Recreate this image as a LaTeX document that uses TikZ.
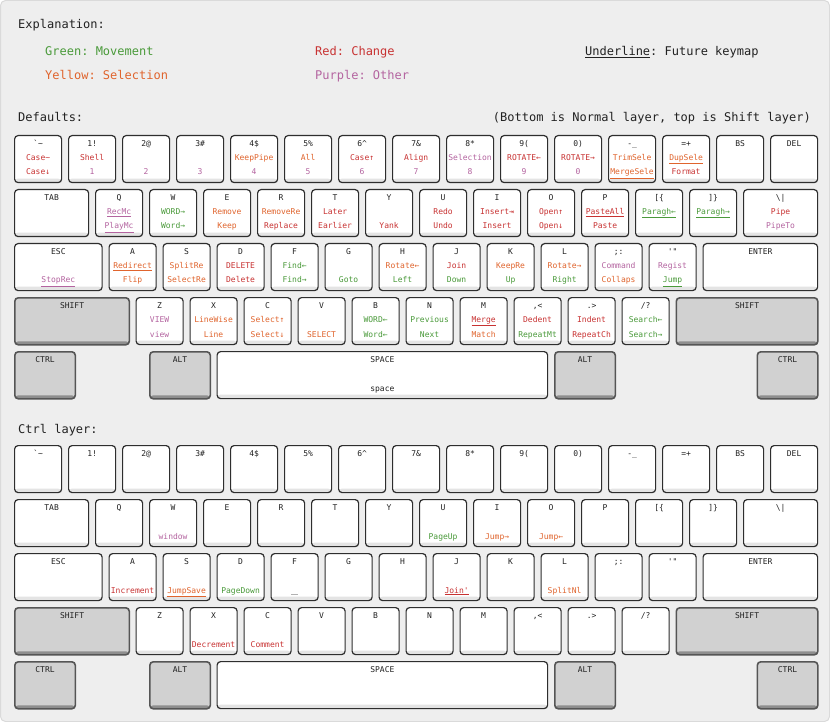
\documentclass[tikz,border=0pt]{standalone}
\usepackage{fontspec}
\setmonofont{DejaVu Sans Mono}
\usepackage{tikz}
\usepackage{xcolor}
\definecolor{KbBack}{HTML}{EEEEEE}
\definecolor{KbFrame}{HTML}{DADADA}
\definecolor{KbBorder}{HTML}{2E2E2E}
\definecolor{KbShade}{HTML}{E4E4E4}
\definecolor{KbMod}{HTML}{D1D1D1}
\definecolor{KbModBorder}{HTML}{555555}
\definecolor{KbModShade}{HTML}{8E8E8E}
\definecolor{KbText}{HTML}{222222}
\definecolor{KbGreen}{HTML}{4A9A3A}
\definecolor{KbRed}{HTML}{C83232}
\definecolor{KbYellow}{HTML}{E0642D}
\definecolor{KbPurple}{HTML}{B464A0}
\tikzset{
    % White keycaps
    keycap/.style={
        rectangle,
        rounded corners=3.5pt,
        draw=KbBorder,
        line width=1.2pt,
        fill=white,
        minimum height=47pt,
        inner sep=0pt,
        anchor=north west,
        path picture={\fill[KbShade]
            ([yshift=-1pt]path picture bounding box.south west) rectangle
            ([yshift=4pt]path picture bounding box.south east);}
    },
    % Grey modifier keycaps
    modcap/.style={
        keycap,
        draw=KbModBorder,
        line width=1.6pt,
        fill=KbMod,
        path picture={\fill[KbModShade]
            ([yshift=-1pt]path picture bounding box.south west) rectangle
            ([yshift=3.5pt]path picture bounding box.south east);}
    },
    keylabel/.style={
        font=\ttfamily\fontsize{8}{9}\selectfont,
        text=KbText,
        inner sep=0pt,
        anchor=base
    },
    headtext/.style={
        font=\ttfamily\fontsize{12}{14}\selectfont,
        text=KbText,
        inner sep=0pt,
        anchor=base west
    }
}
\newcommand{\kmove}[1]{\textcolor{KbGreen}{#1}}
\newcommand{\kedit}[1]{\textcolor{KbRed}{#1}}
\newcommand{\kpick}[1]{\textcolor{KbYellow}{#1}}
\newcommand{\kmisc}[1]{\textcolor{KbPurple}{#1}}
% [style]{name}{x}{y}{width}{key}{upper}{lower}
\newcommand{\kbkey}[8][keycap]{%
    \node[#1, minimum width=#5pt] (#2) at (#3,#4) {};
    \node[keylabel] (#2-t) at ([yshift=-11.5pt]#2.north) {#6};
    \node[keylabel] (#2-m) at ([yshift=-25.5pt]#2.north) {#7};
    \node[keylabel] (#2-b) at ([yshift=-40pt]#2.north) {#8};
}
\begin{document}
\begin{tikzpicture}[x=1pt, y=-1pt]
        \useasboundingbox (0,0) rectangle (830,722);
        \draw[KbFrame, fill=KbBack, rounded corners=5pt, line width=1pt]
              (0.5,0.5) rectangle (829.5,721.5);

        % Legend
        \node[headtext] (explain) at (18,29) {Explanation:};
        \node[headtext, text=KbGreen] (leg-move) at (45,56) {Green: Movement};
        \node[headtext, text=KbYellow] (leg-sel) at (45,80) {Yellow: Selection};
        \node[headtext, text=KbRed] (leg-change) at (315,56) {Red: Change};
        \node[headtext, text=KbPurple] (leg-other) at (315,80) {Purple: Other};
        \node[headtext] (leg-future) at (585,56) {\underline{Underline}: Future keymap};
        \node[headtext] (defaults) at (18,122) {Defaults:};
        \node[headtext, anchor=base east] (layers) at (811,122)
              {(Bottom is Normal layer, top is Shift layer)};

        % Defaults: number row
        \kbkey{d-grave}{14}{135}{47}{`\textasciitilde}{\kedit{Case\textasciitilde}}{\kedit{Case↓}}
        \kbkey{d-n1}{68}{135}{47}{1!}{\kedit{Shell}}{\kmisc{1}}
        \kbkey{d-n2}{122}{135}{47}{2@}{}{\kmisc{2}}
        \kbkey{d-n3}{176}{135}{47}{3\#}{}{\kmisc{3}}
        \kbkey{d-n4}{230}{135}{47}{4\$}{\kpick{KeepPipe}}{\kmisc{4}}
        \kbkey{d-n5}{284}{135}{47}{5\%}{\kpick{All}}{\kmisc{5}}
        \kbkey{d-n6}{338}{135}{47}{6\textasciicircum}{\kedit{Case↑}}{\kmisc{6}}
        \kbkey{d-n7}{392}{135}{47}{7\&}{\kedit{Align}}{\kmisc{7}}
        \kbkey{d-n8}{446}{135}{47}{8*}{\kmisc{Selection}}{\kmisc{8}}
        \kbkey{d-n9}{500}{135}{47}{9(}{\kedit{ROTATE←}}{\kmisc{9}}
        \kbkey{d-n0}{554}{135}{47}{0)}{\kedit{ROTATE→}}{\kmisc{0}}
        \kbkey{d-minus}{608}{135}{47}{-\_}{\kpick{TrimSele}}{\kpick{\underline{MergeSele}}}
        \kbkey{d-equal}{662}{135}{47}{=+}{\kpick{\underline{DupSele}}}{\kedit{Format}}
        \kbkey{d-bs}{716}{135}{47}{BS}{}{}
        \kbkey{d-del}{770}{135}{47}{DEL}{}{}

        % Defaults: top row
        \kbkey{d-tab}{14}{189}{74}{TAB}{}{}
        \kbkey{d-q}{95}{189}{47}{Q}{\kmisc{\underline{RecMc}}}{\kmisc{\underline{PlayMc}}}
        \kbkey{d-w}{149}{189}{47}{W}{\kmove{WORD→}}{\kmove{Word→}}
        \kbkey{d-e}{203}{189}{47}{E}{\kpick{Remove}}{\kpick{Keep}}
        \kbkey{d-r}{257}{189}{47}{R}{\kpick{RemoveRe}}{\kedit{Replace}}
        \kbkey{d-t}{311}{189}{47}{T}{\kedit{Later}}{\kedit{Earlier}}
        \kbkey{d-y}{365}{189}{47}{Y}{}{\kedit{Yank}}
        \kbkey{d-u}{419}{189}{47}{U}{\kedit{Redo}}{\kedit{Undo}}
        \kbkey{d-i}{473}{189}{47}{I}{\kedit{Insert⇥}}{\kedit{Insert}}
        \kbkey{d-o}{527}{189}{47}{O}{\kedit{Open↑}}{\kedit{Open↓}}
        \kbkey{d-p}{581}{189}{47}{P}{\kedit{\underline{PasteAll}}}{\kedit{Paste}}
        \kbkey{d-lbrack}{635}{189}{47}{[\{}{\kmove{\underline{Paragh←}}}{}
        \kbkey{d-rbrack}{689}{189}{47}{]\}}{\kmove{\underline{Paragh→}}}{}
        \kbkey{d-bslash}{743}{189}{74}{\textbackslash|}{\kedit{Pipe}}{\kmisc{PipeTo}}

        % Defaults: home row
        \kbkey{d-esc}{14}{243}{87.5}{ESC}{}{\kmisc{\underline{StopRec}}}
        \kbkey{d-a}{108.5}{243}{47}{A}{\kpick{\underline{Redirect}}}{\kpick{Flip}}
        \kbkey{d-s}{162.5}{243}{47}{S}{\kpick{SplitRe}}{\kpick{SelectRe}}
        \kbkey{d-d}{216.5}{243}{47}{D}{\kedit{DELETE}}{\kedit{Delete}}
        \kbkey{d-f}{270.5}{243}{47}{F}{\kmove{Find←}}{\kmove{Find→}}
        \kbkey{d-g}{324.5}{243}{47}{G}{}{\kmove{Goto}}
        \kbkey{d-h}{378.5}{243}{47}{H}{\kpick{Rotate←}}{\kmove{Left}}
        \kbkey{d-j}{432.5}{243}{47}{J}{\kedit{Join}}{\kmove{Down}}
        \kbkey{d-k}{486.5}{243}{47}{K}{\kpick{KeepRe}}{\kmove{Up}}
        \kbkey{d-l}{540.5}{243}{47}{L}{\kpick{Rotate→}}{\kmove{Right}}
        \kbkey{d-semi}{594.5}{243}{47}{;:}{\kmisc{Command}}{\kpick{Collaps}}
        \kbkey{d-quote}{648.5}{243}{47}{'"}{\kmisc{Regist}}{\kmove{\underline{Jump}}}
        \kbkey{d-enter}{702.5}{243}{114.5}{ENTER}{}{}

        % Defaults: bottom row
        \kbkey[modcap]{d-lshift}{14}{297}{114.5}{SHIFT}{}{}
        \kbkey{d-z}{135.5}{297}{47}{Z}{\kmisc{VIEW}}{\kmisc{view}}
        \kbkey{d-x}{189.5}{297}{47}{X}{\kpick{LineWise}}{\kpick{Line}}
        \kbkey{d-c}{243.5}{297}{47}{C}{\kpick{Select↑}}{\kpick{Select↓}}
        \kbkey{d-v}{297.5}{297}{47}{V}{}{\kpick{SELECT}}
        \kbkey{d-b}{351.5}{297}{47}{B}{\kmove{WORD←}}{\kmove{Word←}}
        \kbkey{d-n}{405.5}{297}{47}{N}{\kmove{Previous}}{\kmove{Next}}
        \kbkey{d-m}{459.5}{297}{47}{M}{\kedit{\underline{Merge}}}{\kpick{Match}}
        \kbkey{d-comma}{513.5}{297}{47}{,<}{\kedit{Dedent}}{\kmove{RepeatMt}}
        \kbkey{d-period}{567.5}{297}{47}{.>}{\kedit{Indent}}{\kedit{RepeatCh}}
        \kbkey{d-slash}{621.5}{297}{47}{/?}{\kmove{Search←}}{\kmove{Search→}}
        \kbkey[modcap]{d-rshift}{675.5}{297}{141.5}{SHIFT}{}{}

        % Defaults: space row
        \kbkey[modcap]{d-lctrl}{14}{351}{60.5}{CTRL}{}{}
        \kbkey[modcap]{d-lalt}{149}{351}{60.5}{ALT}{}{}
        \kbkey{d-space}{216.5}{351}{330.5}{SPACE}{}{space}
        \kbkey[modcap]{d-ralt}{554}{351}{60.5}{ALT}{}{}
        \kbkey[modcap]{d-rctrl}{756.5}{351}{60.5}{CTRL}{}{}

        \node[headtext] (ctrl-title) at (18,433) {Ctrl layer:};

        % Ctrl: number row
        \kbkey{c-grave}{14}{445}{47}{`\textasciitilde}{}{}
        \kbkey{c-n1}{68}{445}{47}{1!}{}{}
        \kbkey{c-n2}{122}{445}{47}{2@}{}{}
        \kbkey{c-n3}{176}{445}{47}{3\#}{}{}
        \kbkey{c-n4}{230}{445}{47}{4\$}{}{}
        \kbkey{c-n5}{284}{445}{47}{5\%}{}{}
        \kbkey{c-n6}{338}{445}{47}{6\textasciicircum}{}{}
        \kbkey{c-n7}{392}{445}{47}{7\&}{}{}
        \kbkey{c-n8}{446}{445}{47}{8*}{}{}
        \kbkey{c-n9}{500}{445}{47}{9(}{}{}
        \kbkey{c-n0}{554}{445}{47}{0)}{}{}
        \kbkey{c-minus}{608}{445}{47}{-\_}{}{}
        \kbkey{c-equal}{662}{445}{47}{=+}{}{}
        \kbkey{c-bs}{716}{445}{47}{BS}{}{}
        \kbkey{c-del}{770}{445}{47}{DEL}{}{}

        % Ctrl: top row
        \kbkey{c-tab}{14}{499}{74}{TAB}{}{}
        \kbkey{c-q}{95}{499}{47}{Q}{}{}
        \kbkey{c-w}{149}{499}{47}{W}{}{\kmisc{window}}
        \kbkey{c-e}{203}{499}{47}{E}{}{}
        \kbkey{c-r}{257}{499}{47}{R}{}{}
        \kbkey{c-t}{311}{499}{47}{T}{}{}
        \kbkey{c-y}{365}{499}{47}{Y}{}{}
        \kbkey{c-u}{419}{499}{47}{U}{}{\kmove{PageUp}}
        \kbkey{c-i}{473}{499}{47}{I}{}{\kpick{Jump→}}
        \kbkey{c-o}{527}{499}{47}{O}{}{\kpick{Jump←}}
        \kbkey{c-p}{581}{499}{47}{P}{}{}
        \kbkey{c-lbrack}{635}{499}{47}{[\{}{}{}
        \kbkey{c-rbrack}{689}{499}{47}{]\}}{}{}
        \kbkey{c-bslash}{743}{499}{74}{\textbackslash|}{}{}

        % Ctrl: home row
        \kbkey{c-esc}{14}{553}{87.5}{ESC}{}{}
        \kbkey{c-a}{108.5}{553}{47}{A}{}{\kedit{Increment}}
        \kbkey{c-s}{162.5}{553}{47}{S}{}{\kpick{\underline{JumpSave}}}
        \kbkey{c-d}{216.5}{553}{47}{D}{}{\kmove{PageDown}}
        \kbkey{c-f}{270.5}{553}{47}{F}{}{\textcolor{black!30}{\underline{\hspace{7pt}}}}
        \kbkey{c-g}{324.5}{553}{47}{G}{}{}
        \kbkey{c-h}{378.5}{553}{47}{H}{}{}
        \kbkey{c-j}{432.5}{553}{47}{J}{}{\kedit{\underline{Join'}}}
        \kbkey{c-k}{486.5}{553}{47}{K}{}{}
        \kbkey{c-l}{540.5}{553}{47}{L}{}{\kpick{SplitNl}}
        \kbkey{c-semi}{594.5}{553}{47}{;:}{}{}
        \kbkey{c-quote}{648.5}{553}{47}{'"}{}{}
        \kbkey{c-enter}{702.5}{553}{114.5}{ENTER}{}{}

        % Ctrl: bottom row
        \kbkey[modcap]{c-lshift}{14}{607}{114.5}{SHIFT}{}{}
        \kbkey{c-z}{135.5}{607}{47}{Z}{}{}
        \kbkey{c-x}{189.5}{607}{47}{X}{}{\kedit{Decrement}}
        \kbkey{c-c}{243.5}{607}{47}{C}{}{\kedit{Comment}}
        \kbkey{c-v}{297.5}{607}{47}{V}{}{}
        \kbkey{c-b}{351.5}{607}{47}{B}{}{}
        \kbkey{c-n}{405.5}{607}{47}{N}{}{}
        \kbkey{c-m}{459.5}{607}{47}{M}{}{}
        \kbkey{c-comma}{513.5}{607}{47}{,<}{}{}
        \kbkey{c-period}{567.5}{607}{47}{.>}{}{}
        \kbkey{c-slash}{621.5}{607}{47}{/?}{}{}
        \kbkey[modcap]{c-rshift}{675.5}{607}{141.5}{SHIFT}{}{}

        % Ctrl: space row
        \kbkey[modcap]{c-lctrl}{14}{661}{60.5}{CTRL}{}{}
        \kbkey[modcap]{c-lalt}{149}{661}{60.5}{ALT}{}{}
        \kbkey{c-space}{216.5}{661}{330.5}{SPACE}{}{}
        \kbkey[modcap]{c-ralt}{554}{661}{60.5}{ALT}{}{}
        \kbkey[modcap]{c-rctrl}{756.5}{661}{60.5}{CTRL}{}{}
    \end{tikzpicture}
\end{document}
